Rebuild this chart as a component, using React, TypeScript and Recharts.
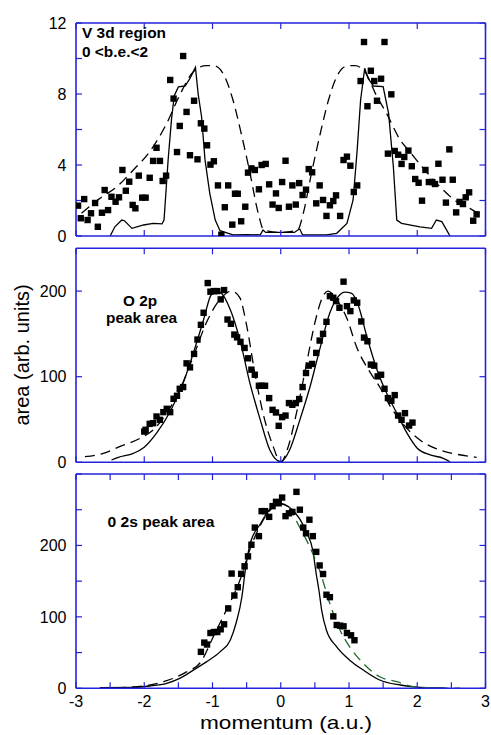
import React from 'react';
import { ComposedChart, Line, Scatter, XAxis, YAxis } from 'recharts';

// ---------- Panel 1: V 3d region ----------
const v3dPtsX = [-2.97,-2.93,-2.88,-2.83,-2.78,-2.72,-2.68,-2.62,-2.58,-2.53,-2.48,-2.42,-2.37,-2.32,-2.27,-2.22,-2.17,-2.13,-2.08,-2.03,-1.98,-1.92,-1.87,-1.82,-1.77,-1.73,-1.68,-1.62,-1.57,-1.52,-1.48,-1.43,-1.38,-1.33,-1.27,-1.22,-1.17,-1.12,-1.08,-1.03,-0.98,-0.92,-0.87,-0.82,-0.77,-0.71,-0.67,-0.63,-0.58,-0.52,-0.48,-0.43,-0.38,-0.32,-0.28,-0.22,-0.17,-0.12,-0.07,-0.03,0.02,0.07,0.12,0.17,0.22,0.27,0.32,0.37,0.41,0.46,0.52,0.57,0.62,0.67,0.72,0.77,0.81,0.87,0.92,0.97,1.02,1.07,1.12,1.17,1.22,1.27,1.32,1.37,1.41,1.47,1.52,1.57,1.62,1.67,1.72,1.77,1.81,1.87,1.92,1.97,2.02,2.07,2.12,2.17,2.22,2.26,2.31,2.37,2.42,2.47,2.52,2.57,2.62,2.67,2.71,2.76,2.82,2.87];
const v3dPtsY = [1.71,1.0,2.08,0.9,1.28,1.86,0.52,1.31,2.59,1.46,2.21,1.93,2.18,3.72,2.55,3.06,1.75,1.56,3.4,2.16,2.16,3.28,4.23,4.97,4.23,3.1,3.4,8.79,7.74,4.73,6.2,10.14,6.99,4.55,7.62,4.32,6.35,6.05,5.11,4.02,4.21,2.85,0.07,1.62,2.85,0.64,2.38,2.38,0.83,1.65,3.57,3.81,3.72,2.63,4.0,4.06,2.91,1.77,2.4,1.58,3.04,4.24,1.65,2.85,1.77,2.98,2.31,2.61,3.77,3.59,1.84,2.85,2.03,1.13,1.73,1.97,2.29,1.13,4.28,4.47,3.96,2.48,2.85,8.73,10.93,7.31,9.31,8.73,7.62,8.86,10.93,4.64,7.98,4.79,4.58,4.06,4.45,4.81,3.93,3.21,3.0,1.99,3.72,3.04,3.04,2.93,4.07,3.17,1.88,4.88,3.17,1.33,1.92,1.8,2.18,2.46,0.86,1.22];
const v3dSolidX = [-2.5,-2.43,-2.33,-2.29,-2.18,-2.01,-1.87,-1.74,-1.71,-1.65,-1.6,-1.56,-1.5,-1.4,-1.33,-1.25,-1.21,-1.16,-1.11,-1.04,-0.96,-0.89,-0.7,-0.5,-0.3,-0.26,-0.22,0.2,0.25,0.28,0.32,0.67,0.82,0.97,1.06,1.12,1.17,1.23,1.28,1.36,1.5,1.58,1.65,1.7,1.77,2.04,2.21,2.28,2.36,2.48];
const v3dSolidY = [0,0.52,0.9,0.86,0.43,0.62,0.71,0.68,0.9,4.3,6.6,7.9,8.4,8.45,8.88,9.5,8.0,6.72,4.3,2.4,0.9,0.3,0.06,0.08,0.06,0.34,0.2,0.2,0.34,0.38,0.06,0.06,0.15,0.71,2.03,4.85,7.66,9.45,8.88,8.45,8.41,6.91,3.9,0.9,0.71,0.52,0.43,0.9,0.81,0];
const v3dDashX = [-2.92,-2.65,-2.4,-2.16,-1.92,-1.67,-1.48,-1.28,-1.09,-0.97,-0.82,-0.7,-0.58,-0.45,-0.33,-0.25,0,0.25,0.33,0.45,0.58,0.7,0.82,0.97,1.09,1.23,1.41,1.55,1.75,1.89,2.07,2.24,2.38,2.58,2.77,2.89];
const v3dDashY = [1.28,2.12,2.78,3.72,4.75,6.35,7.94,9.26,9.6,9.58,8.97,7.66,5.79,3.53,1.28,0.35,0.2,0.35,1.28,3.53,5.79,7.66,8.97,9.58,9.6,9.26,7.85,6.91,5.41,4.75,3.9,3.15,2.59,1.93,1.56,1.28];

// ---------- Panel 2: O 2p ----------
const o2pPtsX = [-2.0,-1.98,-1.92,-1.87,-1.82,-1.77,-1.72,-1.67,-1.62,-1.57,-1.52,-1.48,-1.43,-1.38,-1.33,-1.27,-1.22,-1.17,-1.13,-1.07,-1.03,-0.98,-0.93,-0.88,-0.83,-0.78,-0.73,-0.68,-0.64,-0.59,-0.53,-0.48,-0.43,-0.38,-0.32,-0.28,-0.23,-0.17,-0.12,-0.07,-0.03,0.02,0.07,0.12,0.17,0.22,0.27,0.32,0.37,0.41,0.46,0.52,0.57,0.62,0.67,0.72,0.77,0.81,0.86,0.92,0.97,1.02,1.07,1.12,1.18,1.22,1.27,1.32,1.37,1.42,1.47,1.52,1.57,1.62,1.67,1.72,1.77,1.82,1.88,1.93];
const o2pPtsY = [35.9,38,44.9,45.7,53.5,49.6,58.6,62.5,58.6,74.2,77.7,85.9,87.9,115.6,110.9,126.6,143.4,160.6,174.7,209.4,199.3,200,200,190.3,201.2,166.8,161.8,149.2,146,140.7,133.6,121.5,108.2,102.3,89.4,89.4,89.4,75,61.3,58.2,42.6,52.8,54.6,69.2,67.2,69.2,73.9,87.9,104.3,112.9,114.9,127.8,142.2,150.1,164.1,194.1,192.3,188.3,180.5,211,182.4,176.6,189.1,186.4,164.5,145.7,141.4,114.1,112.9,100.4,102.3,85.9,75,71.9,78.5,54.6,49.6,57.4,42.9,46.4];
const o2pSolidX = [-2.48,-2.38,-2.16,-2.0,-1.82,-1.62,-1.43,-1.28,-1.13,-1.03,-0.96,-0.89,-0.74,-0.6,-0.45,-0.3,-0.16,0,0.13,0.28,0.43,0.57,0.72,0.87,0.94,1.04,1.14,1.26,1.41,1.55,1.7,1.85,2.0,2.19,2.38,2.48];
const o2pSolidY = [2.7,5.8,10.5,17.6,34,59.3,92.6,127.8,166.8,194.1,200,198.8,178.5,143.4,92,49.6,14.4,0.7,14.4,49.6,88.6,131.7,174.7,196.1,198.8,197.3,182.4,147.2,108.2,80.9,57.4,34,16.4,8.6,4.7,0.7];
const o2pDashX = [-2.87,-2.6,-2.36,-2.06,-1.87,-1.67,-1.48,-1.28,-1.09,-0.89,-0.72,-0.6,-0.5,-0.38,-0.26,-0.11,0,0.11,0.23,0.38,0.5,0.62,0.69,0.82,0.97,1.11,1.31,1.45,1.6,1.8,2.04,2.33,2.58,2.87];
const o2pDashY = [6.6,10.5,18.3,28.1,37.9,57.4,84.8,123.8,163,190.3,200,192.3,160,104.3,57.4,18.3,0,18.3,57.4,116,163,194.1,200,190,168,135,105,88,66,44,26,14.4,9.4,5.8];

// ---------- Panel 3: O 2s ----------
const o2sPtsX = [-1.17,-1.12,-1.08,-1.03,-0.98,-0.93,-0.88,-0.83,-0.77,-0.72,-0.68,-0.63,-0.58,-0.53,-0.48,-0.43,-0.38,-0.32,-0.28,-0.23,-0.17,-0.12,-0.07,-0.03,0.02,0.07,0.12,0.17,0.23,0.28,0.33,0.37,0.42,0.47,0.52,0.57,0.62,0.67,0.72,0.77,0.82,0.87,0.92,0.97,1.03,1.08];
const o2sPtsY = [51,64,61.3,77.4,78.8,78.8,82.6,89.6,111.8,160.6,129.9,141.5,160.2,170.8,184.7,201,225,213,248,248,240,255,261,259,267,241,245,247,275,250,225,217,236,213,191,172,160,131,127.6,100.7,88.6,87.7,86.8,77.4,74.2,67.3];
const o2sSolidX = [-2.65,-2.16,-1.92,-1.67,-1.48,-1.28,-1.09,-0.89,-0.74,-0.65,-0.57,-0.52,-0.45,-0.3,-0.16,-0.01,0.13,0.28,0.38,0.47,0.52,0.56,0.6,0.67,0.82,1.01,1.21,1.45,1.75,2.04,2.4];
const o2sSolidY = [1,1.4,3.2,7,13.9,25.5,37,51,67.3,92.8,127.6,164.8,202,230,250.7,259,253,236.8,218,192.6,160,136.9,109,81.2,58,39.4,25.5,11.6,4.6,1.4,0.5];
const o2sDashX = [-2.65,-2.16,-1.67,-1.38,-1.17,-0.99,-0.8,-0.6,-0.45,-0.3,-0.15,0,0.12];
const o2sDashY = [0.5,2,10.6,23,37,71.9,109,150.8,195,228,250,258,254];
const o2sGreenX = [0.12,0.28,0.43,0.57,0.72,0.87,1.01,1.21,1.45,1.7,1.94,2.3,2.63];
const o2sGreenY = [254,225,197,164.8,118.4,81.2,58,34.8,16.2,9.2,2.3,0.5,0.3];

// ---------- Axes ----------
const xTicksInt = [-3, -2, -1, 0, 1, 2, 3];
const xTicksHalf = [-3, -2.5, -2, -1.5, -1, -0.5, 0, 0.5, 1, 1.5, 2, 2.5, 3];
const v3dYTicks = [0, 2, 4, 6, 8, 10, 12];
const v3dYLabels = [0, 4, 8, 12];
const o2pYTicks = [0, 100, 200];
const o2sYTicks = [0, 50, 100, 150, 200, 250, 300];
const o2sYLabels = [0, 100, 200];

const zip = (xs: number[], ys: number[]) => xs.map((x, i) => ({ x, y: ys[i] }));

const AXIS = '#2323dc';
const FONT = '"Liberation Sans", Arial, Helvetica, sans-serif';
const W = 491;
const H = 735;
const PLOT_LEFT = 76;
const PLOT_RIGHT = 485.5;

const square = (p: any) => (
  <rect x={p.cx - 3.2} y={p.cy - 3.2} width={6.4} height={6.4} fill="#000" />
);

type PanelProps = {
  top: number;
  bottom: number;
  yDomain: [number, number];
  yTicks: number[];
  yLabels: number[];
  xTicks: number[];
  showXLabels: boolean;
  points: { x: number; y: number }[];
  lines: { data: { x: number; y: number }[]; dash?: string; color?: string; type?: any }[];
};

function Panel(props: PanelProps) {
  const { top, bottom, yDomain, yTicks, yLabels, xTicks, showXLabels, points, lines } = props;
  const axisLine = { stroke: AXIS, strokeWidth: 1.6 };
  const tickLine = { stroke: AXIS, strokeWidth: 1.2 };
  const tickStyle = { fontSize: 16, fill: '#000', fontFamily: FONT };
  return (
    <div style={{ position: 'absolute', left: 0, top: 0 }}>
      <ComposedChart
        width={W}
        height={H}
        margin={{ top: top - 1, bottom: H - bottom - 1, left: 0, right: W - PLOT_RIGHT - 5 }}
      >
        <XAxis
          xAxisId="b"
          type="number"
          dataKey="x"
          domain={[-3, 3]}
          allowDataOverflow
          ticks={xTicks}
          interval={0}
          orientation="bottom"
          height={1}
          axisLine={axisLine}
          tickLine={tickLine}
          tickSize={-6}
          tickMargin={13.5}
          tick={tickStyle}
          tickFormatter={(v: number) => (showXLabels && Number.isInteger(v) ? String(v) : '')}
        />
        <XAxis
          xAxisId="t"
          type="number"
          dataKey="x"
          domain={[-3, 3]}
          allowDataOverflow
          ticks={xTicks}
          interval={0}
          orientation="top"
          height={1}
          axisLine={axisLine}
          tickLine={tickLine}
          tickSize={-6}
          tick={tickStyle}
          tickFormatter={() => ''}
        />
        <YAxis
          yAxisId="l"
          type="number"
          dataKey="y"
          domain={yDomain}
          allowDataOverflow
          ticks={yTicks}
          interval={0}
          orientation="left"
          width={PLOT_LEFT}
          axisLine={axisLine}
          tickLine={tickLine}
          tickSize={-6}
          tickMargin={15.5}
          tick={tickStyle}
          tickFormatter={(v: number) => (yLabels.includes(v) ? String(v) : '')}
        />
        <YAxis
          yAxisId="r"
          type="number"
          dataKey="y"
          domain={yDomain}
          allowDataOverflow
          ticks={yTicks}
          interval={0}
          orientation="right"
          width={5}
          axisLine={axisLine}
          tickLine={tickLine}
          tickSize={-6}
          tick={tickStyle}
          tickFormatter={() => ''}
        />
        <Line
          xAxisId="t"
          yAxisId="r"
          data={lines[0].data}
          dataKey="y"
          stroke="none"
          dot={false}
          activeDot={false}
          isAnimationActive={false}
        />
        {lines.map((l, i) => (
          <Line
            key={i}
            xAxisId="b"
            yAxisId="l"
            data={l.data}
            dataKey="y"
            type={l.type || 'monotone'}
            stroke={l.color || '#000'}
            strokeWidth={1.3}
            strokeDasharray={l.dash}
            dot={false}
            activeDot={false}
            isAnimationActive={false}
          />
        ))}
        <Scatter
          xAxisId="b"
          yAxisId="l"
          data={points}
          dataKey="y"
          shape={square}
          isAnimationActive={false}
        />
      </ComposedChart>
    </div>
  );
}

export default function App() {
  const bold = { fontFamily: FONT, fontWeight: 700, fontSize: 15, fill: '#000', lengthAdjust: 'spacingAndGlyphs' } as const;
  return (
    <div style={{ position: 'absolute', left: 0, top: 0, width: W, height: H, background: '#fff', overflow: 'hidden' }}>
      <Panel
        top={23}
        bottom={236}
        yDomain={[0, 12]}
        yTicks={v3dYTicks}
        yLabels={v3dYLabels}
        xTicks={xTicksInt}
        showXLabels={false}
        points={zip(v3dPtsX, v3dPtsY)}
        lines={[
          { data: zip(v3dSolidX, v3dSolidY), type: 'linear' },
          { data: zip(v3dDashX, v3dDashY), dash: '10 6' },
        ]}
      />
      <Panel
        top={248.3}
        bottom={462.3}
        yDomain={[0, 250]}
        yTicks={o2pYTicks}
        yLabels={o2pYTicks}
        xTicks={xTicksInt}
        showXLabels={false}
        points={zip(o2pPtsX, o2pPtsY)}
        lines={[
          { data: zip(o2pSolidX, o2pSolidY) },
          { data: zip(o2pDashX, o2pDashY), dash: '10 6' },
        ]}
      />
      <Panel
        top={474}
        bottom={688.3}
        yDomain={[0, 300]}
        yTicks={o2sYTicks}
        yLabels={o2sYLabels}
        xTicks={xTicksHalf}
        showXLabels={true}
        points={zip(o2sPtsX, o2sPtsY)}
        lines={[
          { data: zip(o2sSolidX, o2sSolidY) },
          { data: zip(o2sDashX, o2sDashY), dash: '10 6' },
          { data: zip(o2sGreenX, o2sGreenY), dash: '10 6', color: '#1f6b2a' },
        ]}
      />
      <svg width={W} height={H} style={{ position: 'absolute', left: 0, top: 0, pointerEvents: 'none' }}>
        <text x={82} y={38} textLength={84} {...bold}>V 3d region</text>
        <text x={82} y={57} textLength={66} {...bold}>0 &lt;b.e.&lt;2</text>
        <text x={123} y={306} textLength={34} {...bold}>O 2p</text>
        <text x={106} y={323} textLength={71} {...bold}>peak area</text>
        <text x={107.5} y={527} textLength={107} {...bold}>0 2s peak area</text>
        <text x={200} y={729} textLength={172} lengthAdjust="spacingAndGlyphs" fontFamily={FONT} fontSize={19} fill="#000">momentum (a.u.)</text>
        <text transform="translate(28.5,355) rotate(-90)" textAnchor="middle" fontFamily={FONT} fontSize={20} fill="#000">area (arb. units)</text>
      </svg>
    </div>
  );
}
